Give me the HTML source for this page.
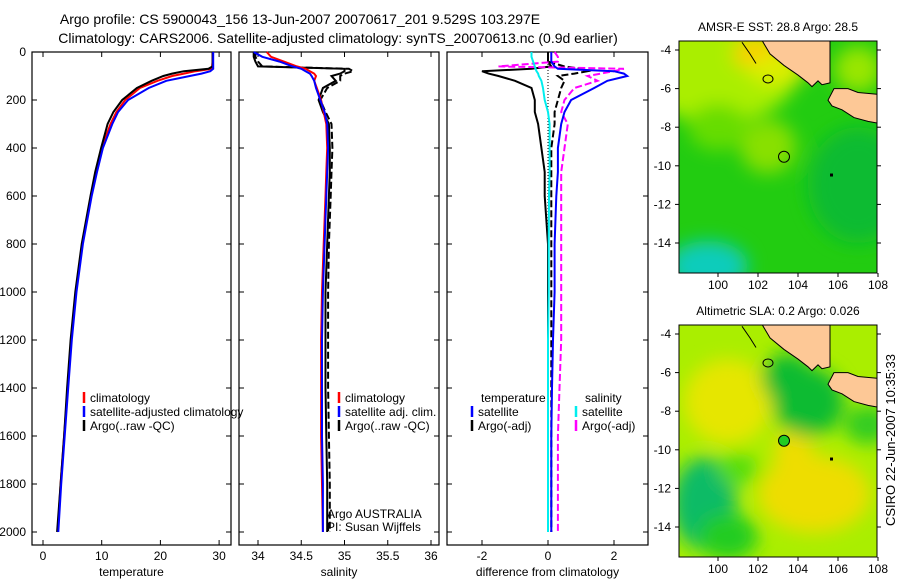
<!DOCTYPE html>
<html><head><meta charset="utf-8"><style>
body{margin:0;background:#fff;}
svg{display:block;font-family:"Liberation Sans",sans-serif;}
</style></head><body>
<svg id="fig" width="900" height="580" viewBox="0 0 900 580" xmlns="http://www.w3.org/2000/svg">
<rect width="900" height="580" fill="#fff"/>
<text x="300" y="24" font-size="14" text-anchor="middle">Argo profile: CS 5900043_156 13-Jun-2007 20070617_201 9.529S 103.297E</text>
<text x="338" y="43" font-size="14" text-anchor="middle">Climatology: CARS2006. Satellite-adjusted climatology: synTS_20070613.nc (0.9d earlier)</text>
<g id="plots"></g>
<g id="maps"></g>
<text transform="translate(895,440) rotate(-90)" font-size="13" text-anchor="middle">CSIRO 22-Jun-2007 10:35:33</text>
</svg>
<script>
const depth=[0,20,40,60,70,80,90,100,120,150,200,250,300,400,500,600,800,1000,1200,1400,1600,1800,2000];
const tempClim=[28.9,28.9,28.9,28.8,28.7,26,24,22,19.5,16.5,14,12.5,11.5,10,9,8.2,6.7,5.6,4.8,4.2,3.6,3.0,2.5];
const tempSat=[29,29,29,29,29,28.5,27,25,21,18,14.5,12.8,11.8,10.2,9.2,8.3,6.8,5.7,4.9,4.3,3.7,3.1,2.6];
const tempArgo=[28.9,28.9,28.9,28.9,28.2,24,22,20.5,18.5,16,13.5,12,11,9.9,8.9,8.1,6.6,5.5,4.7,4.1,3.6,3.0,2.4];
const salClim=[34.1,34.15,34.3,34.45,34.55,34.6,34.65,34.67,34.65,34.68,34.73,34.76,34.79,34.8,34.79,34.78,34.76,34.74,34.73,34.73,34.73,34.74,34.75];
const salSat=[33.95,34.05,34.25,34.4,34.5,34.55,34.6,34.62,34.65,34.67,34.72,34.77,34.8,34.81,34.8,34.79,34.77,34.75,34.74,34.74,34.74,34.75,34.75];
const salArgo=[33.95,33.95,33.97,34.0,35.0,35.0,34.95,34.85,34.9,34.75,34.7,34.75,34.82,34.83,34.83,34.82,34.8,34.78,34.78,34.78,34.79,34.8,34.8];
const salArgoAdj=[33.97,33.97,34.0,34.05,35.05,35.1,35.0,34.95,34.95,34.8,34.72,34.78,34.85,34.86,34.85,34.84,34.82,34.81,34.81,34.81,34.82,34.83,34.83];
const dTempSat=[0.1,0.1,0.1,0.2,0.3,2.0,2.3,2.4,1.8,1.4,0.7,0.5,0.4,0.3,0.3,0.25,0.2,0.2,0.15,0.12,0.1,0.1,0.1];
const dTempArgo=[0,0,0,0.1,-0.5,-2.0,-1.8,-1.5,-1.0,-0.5,-0.4,-0.4,-0.3,-0.2,-0.1,-0.1,0,0,0,0,0,0,0];
const dTempArgoAdj=[0,0,0,0.5,1.0,1.2,0.8,0.3,0.5,0.4,0.3,0.2,0.2,0.1,0.1,0.1,0.1,0.1,0.1,0.1,0.1,0.1,0.1];
const dSalSat=[-0.5,-0.5,-0.45,-0.4,-0.38,-0.35,-0.3,-0.28,-0.2,-0.15,-0.1,0,0.05,0.05,0.05,0.03,0.02,0.02,0,0,0,0,0];
const dSalArgo=[0.2,0.3,0.3,-1.5,2.3,2.0,1.6,1.2,1.5,0.8,0.5,0.4,0.6,0.5,0.4,0.4,0.4,0.4,0.4,0.35,0.3,0.3,0.3];
const depthTicks=[0,200,400,600,800,1000,1200,1400,1600,1800,2000];
const tempTicks=[0,10,20,30];
const salTicks=[34,34.5,35,35.5,36];
const diffTicks=[-2,0,2];

const NS="http://www.w3.org/2000/svg";
function mk(tag,attrs,parent,txt){const e=document.createElementNS(NS,tag);for(const k in attrs)e.setAttribute(k,attrs[k]);if(txt!==undefined)e.textContent=txt;parent.appendChild(e);return e;}
const plots=document.getElementById('plots');
const TOP=52,BOT=545;
const yD=d=>TOP+d*0.24;
const panels=[
 {name:'temperature',x0:32,x1:231,v0:0,px0:43,scale:5.87,ticks:tempTicks,label:'temperature'},
 {name:'salinity',x0:239,x1:439,v0:34,px0:258,scale:86.5,ticks:salTicks,label:'salinity'},
 {name:'difference',x0:447,x1:648,v0:0,px0:548,scale:33,ticks:diffTicks,label:'difference from climatology'}
];
panels.forEach((p,i)=>{
 const g=mk('g',{},plots);
 
 
 const fr=mk('rect',{x:p.x0,y:TOP,width:p.x1-p.x0,height:BOT-TOP,fill:'none',stroke:'#000','stroke-width':1.2},g);
 
 
 p.xs=v=>p.px0+(v-p.v0)*p.scale;
 p.ticks.forEach(t=>{
  const x=p.xs(t);
  mk('line',{x1:x,x2:x,y1:BOT,y2:BOT-5,stroke:'#000'},g);
  mk('line',{x1:x,x2:x,y1:TOP,y2:TOP+5,stroke:'#000'},g);
  const tl=mk('text',{x:x,y:560,'font-size':12,'text-anchor':'middle'},g,String(t));
  
  
 });
 depthTicks.forEach(d=>{
  const y=yD(d);
  mk('line',{x1:p.x0,x2:p.x0+5,y1:y,y2:y,stroke:'#000'},g);
  mk('line',{x1:p.x1,x2:p.x1-5,y1:y,y2:y,stroke:'#000'},g);
  if(i===0){const tl=mk('text',{x:26,y:y+4,'font-size':12,'text-anchor':'end'},g,String(d));
   
   }
 });
 const xl=mk('text',{x:(p.x0+p.x1)/2,y:576,'font-size':12,'text-anchor':'middle'},g,p.label);
 
 
});
function line(p,vals,color,name,dash){
 const pts=vals.map((v,k)=>p.xs(v).toFixed(1)+','+yD(depth[k]).toFixed(1)).join(' ');
 const l=mk('polyline',{points:pts,fill:'none',stroke:color,'stroke-width':2},plots);
 if(dash)l.setAttribute('stroke-dasharray',dash);
 
 
}
const [P1,P2,P3]=panels;
line(P1,tempClim,'#f00','temp-climatology-line');
line(P1,tempArgo,'#000','temp-argo-line');
line(P1,tempSat,'#00f','temp-satellite-line');
line(P2,salArgoAdj,'#000','sal-argo-adj-line','7,3');
line(P2,salArgo,'#000','sal-argo-line');
line(P2,salClim,'#f00','sal-climatology-line');
line(P2,salSat,'#00f','sal-satellite-line');
mk('line',{x1:548,x2:548,y1:TOP,y2:BOT-15,stroke:'#000','stroke-dasharray':'1,2'},plots);
line(P3,dTempArgoAdj,'#000','diff-temp-argo-adj-line','7,3');
line(P3,dTempArgo,'#000','diff-temp-argo-line');
line(P3,dSalArgo,'#f0f','diff-sal-argo-line','7,3');
line(P3,dSalSat,'#0ee','diff-sal-satellite-line');
line(P3,dTempSat,'#00f','diff-temp-satellite-line');
function legend(x,y,color,label,name,dash){
 const g=mk('g',{},plots);
 
 
 mk('line',{x1:x,x2:x,y1:y-10,y2:y+1,stroke:color,'stroke-width':2.5},g);
 mk('text',{x:x+6,y:y,'font-size':12},g,label);
}
legend(84,402,'#f00','climatology','legend-climatology');
legend(84,416,'#00f','satellite-adjusted climatology','legend-satellite-adjusted');
legend(84,430,'#000','Argo(..raw -QC)','legend-argo');
legend(339,402,'#f00','climatology','sal-legend-climatology');
legend(339,416,'#00f','satellite adj. clim.','sal-legend-satellite');
legend(339,430,'#000','Argo(..raw -QC)','sal-legend-argo');
const t1=mk('text',{x:481,y:402,'font-size':12},plots,'temperature');
const t2=mk('text',{x:585,y:402,'font-size':12},plots,'salinity');
legend(472,416,'#00f','satellite','diff-legend-temp-satellite');
legend(472,430,'#000','Argo(-adj)','diff-legend-temp-argo');
legend(576,416,'#0ee','satellite','diff-legend-sal-satellite');
legend(576,430,'#f0f','Argo(-adj)','diff-legend-sal-argo');
const a1=mk('text',{x:327,y:518,'font-size':12},plots,'Argo AUSTRALIA');
const a2=mk('text',{x:327,y:531,'font-size':12},plots,'PI: Susan Wijffels');

// maps
const maps=document.getElementById('maps');
const lonTicks=[100,102,104,106,108];
const latTicks=[-4,-6,-8,-10,-12,-14];
const sumatra=[[102.2,-3.5],[102.6,-4.2],[103.3,-4.8],[104,-5.3],[104.5,-5.7],[104.7,-5.9],[105.0,-5.6],[105.2,-5.8],[105.6,-5.7],[105.6,-3.5]];
const java=[[105.5,-6.6],[105.8,-6.0],[106.5,-6.0],[107,-6.2],[108.05,-6.3],[108.05,-7.8],[107.5,-7.7],[106.8,-7.5],[106.2,-7.1],[105.7,-6.9]];
const mapDefs=[
 {name:'sst-map',top:41,bot:273,title:'AMSR-E SST: 28.8 Argo: 28.5',base:'#22cc11',
  blobs:[[100,-5,4,2.8,'#aaee00'],[102,-4.2,1.2,0.8,'#ffcc00'],[103,-5,1.5,0.8,'#ddee00'],[102.5,-9,1.4,1.4,'#88e000'],[99.5,-15.2,2,1.3,'#11ccbb'],[107,-11,2.5,3,'#11bb33'],[107,-5,1.2,1.2,'#99e600'],[100,-8,1.5,1.2,'#66dd00']],
  markFill:'none'},
 {name:'sla-map',top:325,bot:557,title:'Altimetric SLA: 0.2 Argo: 0.026',base:'#aaee00',
  blobs:[[100.5,-7.5,2.2,2.2,'#e6e600'],[104.8,-12.3,2.8,2,'#eedd00'],[103.8,-10.3,1,1.5,'#eedd00'],[104.5,-7.5,1.8,1.8,'#11bb33'],[103.5,-6.3,1.3,1.3,'#11bb33'],[99.3,-12.8,1.6,2.4,'#11bb66'],[100.5,-14.5,1.5,1.2,'#22cc22'],[101,-11,1,0.8,'#55dd11'],[107.5,-8.7,1.2,1,'#33cc22']],
  markFill:'#22cc22'}
];
let gid=0;
mapDefs.forEach(m=>{
 const g=mk('g',{},maps);
 
 
 const L=679,R=877;
 const xs=lon=>718+(lon-100)*20;
 const ys=lat=>m.top+9+(-4-lat)*19.3;
 const cid='clip'+(gid++);
 const cp=mk('clipPath',{id:cid},g);mk('rect',{x:L,y:m.top,width:R-L,height:m.bot-m.top},cp);
 const fid='blur'+gid;
 const f=mk('filter',{id:fid,x:'-50%',y:'-50%',width:'200%',height:'200%'},g);mk('feGaussianBlur',{stdDeviation:9},f);
 const inner=mk('g',{'clip-path':'url(#'+cid+')'},g);
 mk('rect',{x:L,y:m.top,width:R-L,height:m.bot-m.top,fill:m.base},inner);
 const bl=mk('g',{filter:'url(#'+fid+')'},inner);
 m.blobs.forEach(b=>{const e=mk('ellipse',{cx:xs(b[0]),cy:ys(b[1]),rx:b[2]*20,ry:b[3]*19.3,fill:b[4]},bl);
  });
 [sumatra,java].forEach(poly=>{const e=mk('polygon',{points:poly.map(p=>xs(p[0])+','+ys(p[1])).join(' '),fill:'#fdc896',stroke:'#000','stroke-width':1},inner);
  });
 mk('ellipse',{cx:xs(102.5),cy:ys(-5.5),rx:5,ry:4,fill:'none',stroke:'#000'},inner);
 mk('path',{d:`M${xs(101.2)},${ys(-3.6)} L${xs(101.6)},${ys(-4.2)} L${xs(101.9)},${ys(-4.7)}`,fill:'none',stroke:'#000'},inner);
 const c=mk('circle',{cx:xs(103.3),cy:ys(-9.53),r:5.5,fill:m.markFill,stroke:'#000','stroke-width':1},g);
 
 mk('rect',{x:xs(105.6),y:ys(-10.4),width:3,height:3,fill:'#000'},g);
 mk('rect',{x:L,y:m.top,width:R-L,height:m.bot-m.top,fill:'none',stroke:'#000'},g);
 lonTicks.forEach(t=>{const x=xs(t);mk('line',{x1:x,x2:x,y1:m.bot,y2:m.bot+4,stroke:'#000'},g);
  const tl=mk('text',{x:x,y:m.bot+16,'font-size':12,'text-anchor':'middle'},g,String(t));
  });
 latTicks.forEach(t=>{const y=ys(t);mk('line',{x1:L-4,x2:L,y1:y,y2:y,stroke:'#000'},g);mk('line',{x1:R,x2:R+4,y1:y,y2:y,stroke:'#000'},g);
  const tl=mk('text',{x:L-8,y:y+4,'font-size':12,'text-anchor':'end'},g,String(t));
  });
 const tt=mk('text',{x:778,y:m.top-10,'font-size':12,'text-anchor':'middle'},g,m.title);
 
});
</script>
</body></html>
